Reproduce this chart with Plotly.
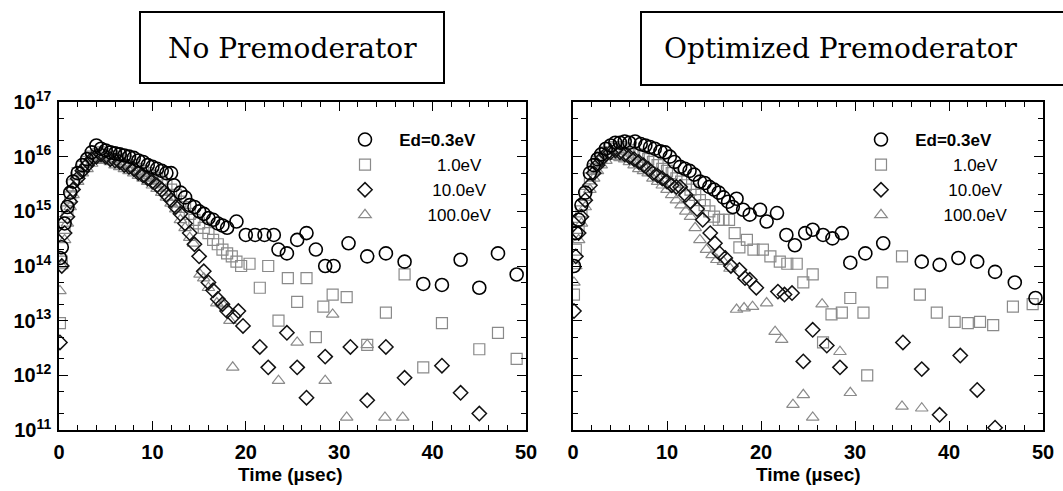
import plotly.graph_objects as go

W, H = 1063, 491

# ---- data: time (usec) and flux ----
# No Premoderator
t_nopre_03 = [0.1, 0.3, 0.6, 0.9, 1.2, 1.5, 2.0, 2.5, 3.0, 3.5, 4.0, 4.5, 5.0, 5.5, 6.0, 6.5, 7.0, 7.5,
              8.0, 8.5, 9.0, 9.5, 10.0, 10.5, 11.0, 11.5, 12.0, 12.3, 13.0, 13.5, 14.0, 14.5, 15.0, 15.5,
              16.0, 16.5, 17.0, 17.5, 18.0, 19.0, 20.0, 21.0, 22.0, 23.0, 23.5, 24.4, 25.5, 26.5, 27.5,
              28.5, 29.4, 31.0, 33.0, 35.0, 37.0, 39.0, 41.0, 43.0, 45.0, 47.0, 49.0]
v_nopre_03 = [1.4e14, 2.2e14, 6e14, 1.2e15, 2.2e15, 3.5e15, 5e15, 7e15, 9e15, 1.2e16, 1.6e16, 1.4e16,
              1.3e16, 1.2e16, 1.15e16, 1.1e16, 1.05e16, 1e16, 9.5e15, 8.5e15, 8e15, 7e15, 6.5e15, 6e15,
              5.5e15, 5e15, 5e15, 3e15, 2.2e15, 1.8e15, 1.3e15, 1.2e15, 1e15, 9e14, 7.5e14, 7e14, 6e14,
              5.5e14, 5e14, 6.5e14, 3.7e14, 3.7e14, 3.7e14, 3.7e14, 2e14, 1.7e14, 3e14, 4e14, 2e14,
              1e14, 1e14, 2.6e14, 1.5e14, 1.7e14, 1.2e14, 4.7e13, 4.5e13, 1.3e14, 4e13, 1.7e14, 7e13]

t_nopre_1 = [0.1, 0.3, 0.6, 0.9, 1.2, 1.5, 2.0, 2.5, 3.0, 3.5, 4.0, 4.5, 5.0, 5.5, 6.0, 6.5, 7.0, 7.5,
             8.0, 8.5, 9.0, 9.5, 10.0, 10.5, 11.0, 11.5, 12.0, 12.5, 13.0, 13.5, 14.0, 14.5, 15.0, 15.5,
             16.0, 16.5, 17.0, 17.5, 18.0, 18.5, 19.0, 19.5, 20.4, 21.5, 22.4, 23.5, 24.5, 25.5, 26.5,
             27.5, 28.3, 29.3, 30.8, 33.0, 35.0, 37.0, 39.0, 41.0, 45.0, 47.0, 49.0]
v_nopre_1 = [9e12, 1.2e14, 5e14, 1e15, 1.8e15, 3e15, 5e15, 6.5e15, 8e15, 1e16, 1.1e16, 1.2e16, 1.1e16,
             1e16, 1e16, 9e15, 8.5e15, 8e15, 7e15, 6e15, 5.5e15, 5e15, 4.5e15, 4e15, 3.5e15, 3e15,
             2.5e15, 2e15, 1.5e15, 1.2e15, 9e14, 7e14, 6e14, 5e14, 4e14, 3e14, 2.5e14, 2e14, 1.7e14,
             1.5e14, 1.2e14, 1e14, 1.1e14, 4e13, 1e14, 1e13, 6e13, 2.2e13, 6e13, 5e12, 1.8e13, 3e13,
             2.7e13, 3.6e12, 1.4e13, 7e13, 1.4e12, 9e12, 3e12, 6e12, 2e12]

t_nopre_10 = [0.1, 0.3, 0.6, 0.9, 1.2, 1.5, 2.0, 2.5, 3.0, 3.5, 4.0, 4.5, 5.0, 5.5, 6.0, 6.5, 7.0, 7.5,
              8.0, 8.5, 9.0, 9.5, 10.0, 10.5, 11.0, 11.5, 12.0, 12.5, 13.0, 13.5, 14.0, 14.5, 15.0, 15.5,
              16.0, 16.5, 17.0, 17.5, 18.0, 18.7, 19.2, 19.7, 21.5, 22.4, 24.4, 25.5, 26.5, 28.5, 31.2,
              33.0, 35.0, 37.0, 41.0, 43.0, 45.0]
v_nopre_10 = [4e12, 1e14, 4e14, 8e14, 1.5e15, 2.5e15, 4e15, 5.5e15, 7e15, 9e15, 1e16, 1.1e16, 1e16,
              9e15, 8.5e15, 8e15, 7e15, 6.5e15, 6e15, 5e15, 4.5e15, 4e15, 3.5e15, 3e15, 2.5e15, 2e15,
              1.6e15, 1.2e15, 9e14, 6e14, 4e14, 2.5e14, 1.5e14, 8e13, 5e13, 3.6e13, 2.5e13, 2e13,
              1.5e13, 1.2e13, 1.5e13, 8e12, 3.3e12, 1.4e12, 6e12, 1.4e12, 3.9e11, 2.2e12, 3.3e12,
              3.5e11, 3.3e12, 9e11, 1.5e12, 4.8e11, 2e11]

t_nopre_100 = [0.1, 0.3, 0.6, 0.9, 1.2, 1.5, 2.0, 2.5, 3.0, 3.5, 4.0, 4.5, 5.0, 5.5, 6.0, 6.5, 7.0, 7.5,
               8.0, 8.5, 9.0, 9.5, 10.0, 10.5, 11.0, 11.5, 12.0, 12.5, 13.0, 13.5, 14.0, 14.4, 15.1,
               15.5, 16.0, 16.9, 17.5, 18.3, 18.6, 23.5, 25.5, 28.5, 29.3, 30.8, 33.0, 34.9, 36.8]
v_nopre_100 = [3.5e13, 1e14, 3e14, 6e14, 1.2e15, 2e15, 3.5e15, 5e15, 6e15, 7.5e15, 8.5e15, 9e15,
               8.5e15, 8e15, 7e15, 6.5e15, 6e15, 5.5e15, 5e15, 4.5e15, 4e15, 3.5e15, 3e15, 2.6e15,
               2.2e15, 1.8e15, 1.4e15, 1.1e15, 7e14, 5e14, 3.3e14, 2.6e14, 7e13, 6e13, 4e13, 2.1e13,
               2e13, 1e13, 1.4e12, 8e11, 4e12, 8e11, 1.3e13, 1.7e11, 3.6e12, 1.7e11, 1.7e11]

# Optimized Premoderator
t_opt_03 = [0.1, 0.3, 0.6, 0.9, 1.3, 1.8, 2.2, 2.6, 3.0, 3.5, 4.0, 4.5, 5.0, 5.5, 6.0, 6.6, 7.2, 7.7,
            8.2, 8.7, 9.3, 9.8, 10.3, 10.8, 11.4, 11.9, 12.4, 12.9, 13.5, 14.0, 14.5, 15.0, 15.5, 16.0,
            16.5, 17.0, 17.4, 18.1, 18.8, 19.9, 20.6, 21.7, 22.7, 23.6, 24.7, 25.5, 26.6, 27.6, 28.6,
            29.5, 31.1, 33.0, 37.1, 39.0, 41.0, 43.0, 44.9, 47.0, 49.2]
v_opt_03 = [1e14, 4e14, 7e14, 1.3e15, 2.2e15, 5e15, 7e15, 9e15, 1.1e16, 1.4e16, 1.6e16, 1.8e16, 1.8e16,
            1.9e16, 1.8e16, 1.9e16, 1.7e16, 1.6e16, 1.5e16, 1.4e16, 1.25e16, 1.2e16, 1e16, 8e15, 6.5e15,
            6e15, 5.5e15, 4.7e15, 3.5e15, 3.3e15, 2.8e15, 2.5e15, 2.2e15, 1.8e15, 1.5e15, 1.2e15,
            1.7e15, 1.07e15, 8.7e14, 1.07e15, 6.5e14, 9.3e14, 3.7e14, 2.4e14, 4e14, 4.6e14, 3.7e14,
            3.2e14, 4e14, 1.15e14, 1.7e14, 2.6e14, 1.2e14, 1.05e14, 1.4e14, 1.2e14, 7.8e13, 5e13, 2.6e13]

t_opt_1 = [0.1, 0.3, 0.6, 0.9, 1.3, 1.8, 2.2, 2.6, 3.0, 3.5, 4.0, 4.5, 5.0, 5.5, 6.0, 6.5, 7.0, 7.5,
           8.0, 8.5, 9.0, 9.5, 10.0, 10.5, 11.0, 11.5, 12.0, 12.5, 13.0, 13.5, 14.0, 14.5, 15.0, 15.5,
           16.0, 16.6, 17.2, 17.7, 18.5, 19.2, 20.2, 21.0, 22.0, 22.8, 23.8, 24.5, 25.5, 26.6, 27.5,
           28.6, 29.5, 30.9, 31.3, 32.9, 35.0, 36.9, 38.7, 40.6, 42.0, 43.3, 44.7, 46.8, 48.9]
v_opt_1 = [3e13, 2e14, 5e14, 1e15, 2e15, 4e15, 6e15, 8e15, 1e16, 1.2e16, 1.4e16, 1.5e16, 1.5e16, 1.4e16,
           1.3e16, 1.2e16, 1.1e16, 1e16, 9e15, 8e15, 7e15, 6e15, 5.5e15, 5e15, 4e15, 3.5e15, 3e15,
           2.5e15, 2e15, 1.6e15, 1.3e15, 1e15, 8e14, 7e14, 7e14, 7e14, 4e14, 2.2e14, 3e14, 2e14, 2e14,
           1.5e14, 1.2e14, 1.1e14, 1.1e14, 5e13, 7e13, 4e12, 1.3e13, 1.4e13, 2.6e13, 1.4e13, 1e12,
           5e13, 1.5e14, 3e13, 1.4e13, 9.5e12, 9e12, 9.5e12, 8.3e12, 1.8e13, 2e13]

t_opt_10 = [0.1, 0.3, 0.6, 0.9, 1.3, 1.8, 2.2, 2.6, 3.0, 3.5, 4.0, 4.5, 5.0, 5.5, 6.0, 6.5, 7.0, 7.5,
            8.0, 8.5, 9.0, 9.5, 10.0, 10.5, 11.0, 11.4, 12.0, 12.5, 13.2, 13.8, 14.6, 15.1, 15.6, 16.2,
            16.8, 17.7, 18.3, 18.8, 19.5, 21.8, 22.5, 23.3, 24.5, 25.5, 27.0, 28.4, 35.1, 37.1, 39.0,
            41.2, 43.0, 44.9]
v_opt_10 = [1.5e13, 1.5e14, 4e14, 8e14, 1.6e15, 3e15, 5e15, 7e15, 9e15, 1.1e16, 1.2e16, 1.3e16, 1.2e16,
            1.1e16, 1e16, 9e15, 8e15, 7e15, 6e15, 5e15, 4.5e15, 4e15, 3.5e15, 3e15, 2.8e15, 2.8e15,
            2e15, 1.5e15, 1.1e15, 7e14, 4e14, 2.6e14, 1.7e14, 1.4e14, 1e14, 8.5e13, 6e13, 5.6e13,
            4e13, 3.4e13, 3e13, 3.2e13, 1.8e12, 6.8e12, 3.5e12, 1.4e12, 4e12, 1.3e12, 1.9e11, 2.3e12,
            5.4e11, 1.1e11]

t_opt_100 = [0.1, 0.3, 0.6, 0.9, 1.3, 1.8, 2.2, 2.6, 3.0, 3.5, 4.0, 4.5, 5.0, 5.5, 6.0, 6.5, 7.0, 7.5,
             8.0, 8.5, 9.0, 9.5, 10.0, 10.5, 11.0, 11.5, 12.0, 12.5, 13.0, 13.5, 14.2, 14.8, 15.3, 16.0,
             16.7, 17.4, 18.2, 19.1, 20.6, 21.5, 22.2, 23.4, 24.5, 25.5, 26.5, 28.4, 29.5, 35.0, 37.1]
v_opt_100 = [5e13, 1e14, 3e14, 6e14, 1.2e15, 2.5e15, 4e15, 5.5e15, 7e15, 8.5e15, 1e16, 1e16, 9.5e15,
             9e15, 8e15, 7e15, 6e15, 5.5e15, 5e15, 4e15, 3.5e15, 3e15, 2.5e15, 2e15, 1.6e15, 1.3e15,
             1e15, 8e14, 5e14, 3e14, 2e14, 1.6e14, 1.3e14, 1.2e14, 9e13, 1.6e13, 1.7e13, 1.8e13,
             2.1e13, 6.3e12, 4.5e12, 2.9e11, 4.4e11, 1.7e11, 2e13, 2.7e12, 4.8e11, 2.7e11, 2.5e11]

x_ticks = [0, 10, 20, 30, 40, 50]
y_ticks = [1e11, 1e12, 1e13, 1e14, 1e15, 1e16, 1e17]
y_ticktext = ["10<sup>%d</sup>" % p for p in range(11, 18)]

nb = "\u00a0"
legend_names = [nb * 3 + "<b>Ed=0.3eV</b>", nb * 11 + "1.0eV", nb * 10 + "10.0eV", nb * 9 + "100.0eV"]
styles = [
    dict(symbol="circle-open", size=13, color="black", line=dict(width=1.6, color="black")),
    dict(symbol="square-open", size=11, color="#8a8a8a", line=dict(width=1.2, color="#8a8a8a")),
    dict(symbol="diamond-open", size=11, color="#111111", line=dict(width=1.5, color="#111111")),
    dict(symbol="triangle-up-open", size=11, color="#8a8a8a", line=dict(width=1.2, color="#8a8a8a")),
]


def px_x(p):
    return p / W


def px_y(p):
    return 1 - p / H


fig = go.Figure()

panels = [
    ("x", "y", "legend", [(t_nopre_03, v_nopre_03), (t_nopre_1, v_nopre_1),
                          (t_nopre_10, v_nopre_10), (t_nopre_100, v_nopre_100)]),
    ("x2", "y2", "legend2", [(t_opt_03, v_opt_03), (t_opt_1, v_opt_1),
                             (t_opt_10, v_opt_10), (t_opt_100, v_opt_100)]),
]
# draw the faint series first so the black markers sit on top
order = [3, 1, 2, 0]
for xa, ya, lg, series in panels:
    for i in order:
        t, v = series[i]
        fig.add_trace(go.Scatter(x=t, y=v, mode="markers", name=legend_names[i],
                                 marker=styles[i], xaxis=xa, yaxis=ya, legend=lg,
                                 legendrank=i + 1, cliponaxis=True))

tick_font = dict(family="Liberation Sans", size=20, color="black", weight="bold")
title_font = dict(family="Liberation Sans", size=19, color="black", weight="bold")


def xaxis(domain, anchor):
    return dict(domain=domain, anchor=anchor, range=[0, 50], tickvals=x_ticks, automargin=False,
                ticks="inside", ticklen=9, tickwidth=1.3, tickcolor="black",
                minor=dict(dtick=2, ticks="inside", ticklen=5, tickwidth=1, tickcolor="black"),
                showline=True, linecolor="black", linewidth=1.5, mirror="allticks",
                showgrid=False, zeroline=False, tickfont=tick_font, ticklabelstandoff=3)


def yaxis(domain, anchor, labels):
    return dict(domain=domain, anchor=anchor, type="log", range=[11, 17], automargin=False,
                tickvals=y_ticks, ticktext=y_ticktext, showticklabels=labels,
                ticks="inside", ticklen=9, tickwidth=1.3, tickcolor="black",
                minor=dict(ticks="inside", ticklen=5, tickwidth=1, tickcolor="black"),
                showline=True, linecolor="black", linewidth=1.5, mirror="allticks",
                showgrid=False, zeroline=False, tickfont=tick_font, ticklabelstandoff=2)


ydom = [px_y(430), px_y(102)]
legend_font = dict(family="Liberation Sans", size=17, color="black")
title_box_font = dict(family="DejaVu Serif", size=28, color="black")

fig.update_layout(
    width=W, height=H, margin=dict(l=0, r=0, t=0, b=0, autoexpand=False),
    paper_bgcolor="white", plot_bgcolor="white",
    xaxis=xaxis([px_x(59), px_x(526)], "y"),
    yaxis=yaxis(ydom, "x", True),
    xaxis2=xaxis([px_x(573), px_x(1043)], "y2"),
    yaxis2=yaxis(ydom, "x2", False),
    legend=dict(x=px_x(345), y=px_y(122), xanchor="left", yanchor="top",
                bgcolor="rgba(0,0,0,0)", font=legend_font, itemsizing="trace"),
    legend2=dict(x=px_x(861), y=px_y(122), xanchor="left", yanchor="top",
                 bgcolor="rgba(0,0,0,0)", font=legend_font, itemsizing="trace"),
    shapes=[
        dict(type="rect", xref="paper", yref="paper", x0=px_x(140), x1=px_x(444),
             y0=px_y(83), y1=px_y(12), line=dict(color="black", width=2)),
        dict(type="rect", xref="paper", yref="paper", x0=px_x(641), x1=px_x(1075),
             y0=px_y(85), y1=px_y(12), line=dict(color="black", width=2)),
    ],
    annotations=[
        dict(text="No Premoderator", xref="paper", yref="paper", x=px_x(292), y=px_y(48),
             xanchor="center", yanchor="middle", showarrow=False, font=title_box_font),
        dict(text="Optimized Premoderator", xref="paper", yref="paper", x=px_x(662), y=px_y(48),
             xanchor="left", yanchor="middle", showarrow=False, font=title_box_font),
        dict(text="Time (\u00b5sec)", xref="paper", yref="paper", x=px_x(290), y=px_y(474),
             xanchor="center", yanchor="middle", showarrow=False, font=title_font),
        dict(text="Time (\u00b5sec)", xref="paper", yref="paper", x=px_x(808), y=px_y(474),
             xanchor="center", yanchor="middle", showarrow=False, font=title_font),
    ],
)

# the page's default body margin would push the fixed-size figure off the window
fig.write_html("out.html", config={"displayModeBar": False},
               post_script="document.body.style.margin='0';")
